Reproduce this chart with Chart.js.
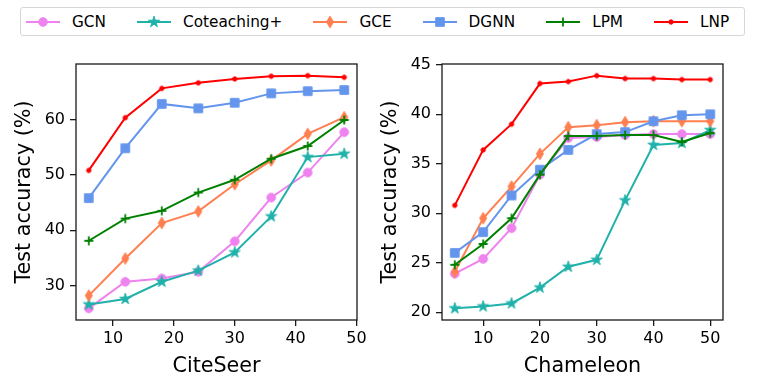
<!DOCTYPE html>
<html>
<head>
<meta charset="utf-8">
<script src="https://cdn.jsdelivr.net/npm/chart.js@4"></script>
<style>
  body { margin: 0; background: #fff; font-family: "DejaVu Sans", sans-serif; }
  #wrap { position: relative; width: 761px; height: 381px; overflow: hidden; }
  #leftChart { position: absolute; left: 0; top: 0; }
  #rightChart { position: absolute; left: 380px; top: 0; }
  #legend {
    position: absolute; left: 20px; top: 7px; width: 718px; height: 27px;
    border: 1px solid #d6d6d6; border-radius: 3px; background: #fff;
    display: flex; align-items: center; padding-left: 5px; box-sizing: content-box;
  }
  .item { display: flex; align-items: center; margin-right: 31px; }
  .item canvas { margin-right: 12px; }
  .item span { font-size: 15.3px; color: #000; white-space: nowrap; }
</style>
</head>
<body>
<div id="wrap">
  <canvas id="leftChart" width="380" height="381"></canvas>
  <canvas id="rightChart" width="381" height="381"></canvas>
  <div id="legend"></div>
</div>
<script>
// ---- data ----
const methods = ["GCN", "Coteaching+", "GCE", "DGNN", "LPM", "LNP"];
const colores = ["#ee82ee", "#20b2aa", "#ff7f50", "#6495ed", "#008000", "#ff0000"];
const marcadores = ["circle", "star", "thinDiamond", "square", "plus", "point"];

const citeseerX = [6, 12, 18, 24, 30, 36, 42, 48];
const citeseerGCN = [25.9, 30.7, 31.3, 32.5, 38.0, 45.9, 50.4, 57.7];
const citeseerCot = [26.6, 27.6, 30.7, 32.7, 36.0, 42.5, 53.2, 53.8];
const citeseerGCE = [28.2, 34.9, 41.3, 43.4, 48.3, 52.6, 57.4, 60.4];
const citeseerDGNN = [45.8, 54.8, 62.8, 62.0, 63.0, 64.7, 65.1, 65.3];
const citeseerLPM = [38.1, 42.1, 43.5, 46.8, 49.1, 52.9, 55.2, 59.9];
const citeseerLNP = [50.8, 60.3, 65.6, 66.6, 67.3, 67.8, 67.9, 67.6];

const chameleonX = [5, 10, 15, 20, 25, 30, 35, 40, 45, 50];
const chameleonGCN = [23.9, 25.4, 28.5, 33.9, 37.6, 37.7, 37.9, 38.0, 38.0, 38.0];
const chameleonCot = [20.4, 20.6, 20.9, 22.5, 24.6, 25.3, 31.3, 36.9, 37.1, 38.4];
const chameleonGCE = [24.1, 29.5, 32.7, 36.0, 38.7, 38.9, 39.2, 39.3, 39.3, 39.3];
const chameleonDGNN = [26.0, 28.1, 31.8, 34.4, 36.4, 38.0, 38.2, 39.3, 39.9, 40.0];
const chameleonLPM = [24.8, 26.9, 29.5, 33.9, 37.8, 37.8, 37.9, 37.9, 37.2, 38.1];
const chameleonLNP = [30.8, 36.4, 39.0, 43.1, 43.3, 43.9, 43.6, 43.6, 43.5, 43.5];

const citeseerXTicks = [10, 20, 30, 40, 50];
const citeseerYTicks = [30, 40, 50, 60];
const chameleonXTicks = [10, 20, 30, 40, 50];
const chameleonYTicks = [20, 25, 30, 35, 40, 45];

const yTitle = "Test accuracy (%)";
const FONT = "DejaVu Sans";

// ---- markers ----
function dibujarMarcador(ctx, tipo, cx, cy, color) {
    ctx.save();
    ctx.fillStyle = color;
    ctx.strokeStyle = color;
    ctx.lineWidth = 1;
    ctx.beginPath();
    if (tipo === "circle") {
        ctx.arc(cx, cy, 4.3, 0, Math.PI * 2);
        ctx.fill(); ctx.stroke();
    } else if (tipo === "point") {
        ctx.arc(cx, cy, 2.2, 0, Math.PI * 2);
        ctx.fill(); ctx.stroke();
    } else if (tipo === "square") {
        ctx.rect(cx - 4.3, cy - 4.3, 8.6, 8.6);
        ctx.fill(); ctx.stroke();
    } else if (tipo === "thinDiamond") {
        ctx.moveTo(cx, cy - 5.8);
        ctx.lineTo(cx + 3.5, cy);
        ctx.lineTo(cx, cy + 5.8);
        ctx.lineTo(cx - 3.5, cy);
        ctx.closePath();
        ctx.fill(); ctx.stroke();
    } else if (tipo === "star") {
        const R = 5.8, r = R * 0.382;
        for (let i = 0; i < 10; i++) {
            const ang = -Math.PI / 2 + i * Math.PI / 5;
            const rad = i % 2 === 0 ? R : r;
            const px = cx + rad * Math.cos(ang), py = cy + rad * Math.sin(ang);
            if (i === 0) ctx.moveTo(px, py); else ctx.lineTo(px, py);
        }
        ctx.closePath();
        ctx.fill(); ctx.stroke();
    } else if (tipo === "plus") {
        ctx.lineWidth = 1.8;
        ctx.moveTo(cx - 4.5, cy); ctx.lineTo(cx + 4.5, cy);
        ctx.moveTo(cx, cy - 4.5); ctx.lineTo(cx, cy + 4.5);
        ctx.stroke();
    }
    ctx.restore();
}

function crearMarcador(tipo, color) {
    const c = document.createElement("canvas");
    c.width = 16; c.height = 16;
    dibujarMarcador(c.getContext("2d"), tipo, 8, 8, color);
    return c;
}

// ---- legend ----
const legendEl = document.getElementById("legend");
methods.forEach((m, i) => {
    const item = document.createElement("div");
    item.className = "item";
    const c = document.createElement("canvas");
    c.width = 34; c.height = 16;
    const ctx = c.getContext("2d");
    ctx.strokeStyle = colores[i];
    ctx.lineWidth = 2;
    ctx.beginPath(); ctx.moveTo(0, 8); ctx.lineTo(34, 8); ctx.stroke();
    dibujarMarcador(ctx, marcadores[i], 17, 8, colores[i]);
    const s = document.createElement("span");
    s.textContent = m;
    item.appendChild(c); item.appendChild(s);
    legendEl.appendChild(item);
});

// ---- charts ----
const framePlugin = {
    id: "frame",
    afterDatasetsDraw(chart) {
        const a = chart.chartArea, ctx = chart.ctx;
        ctx.save();
        ctx.strokeStyle = "#1a1a1a";
        ctx.lineWidth = 1.3;
        ctx.strokeRect(a.left, a.top, a.right - a.left, a.bottom - a.top);
        ctx.restore();
    }
};

function rango(series) {
    const all = series.flat();
    const lo = Math.min(...all), hi = Math.max(...all);
    const m = (hi - lo) * 0.05;
    return [lo - m, hi + m];
}

function crearGrafico(id, xs, series, xTicks, yTicks, xTitle, cfg) {
    const [xMin, xMax] = rango([xs]);
    const [yMin, yMax] = rango(series);
    const datasets = series.map((ys, i) => ({
        label: methods[i],
        data: xs.map((x, j) => ({ x: x, y: ys[j] })),
        borderColor: colores[i],
        backgroundColor: colores[i],
        borderWidth: 2,
        tension: 0,
        pointStyle: crearMarcador(marcadores[i], colores[i]),
        pointRadius: 5,
        clip: false,
        order: methods.length - i
    }));
    const tickStyle = { color: "#000", font: { family: FONT, size: 16 } };
    const gridStyle = { drawOnChartArea: false, drawTicks: true, tickLength: 6, color: "#1a1a1a", lineWidth: 1.3 };
    return new Chart(document.getElementById(id), {
        type: "line",
        data: { datasets },
        options: {
            responsive: false,
            animation: false,
            devicePixelRatio: 1,
            layout: { padding: { left: 0, right: cfg.padRight, top: 64, bottom: 0 } },
            plugins: { legend: { display: false }, tooltip: { enabled: false } },
            scales: {
                x: {
                    type: "linear", min: xMin, max: xMax,
                    grid: gridStyle,
                    border: { display: false },
                    ticks: Object.assign({ padding: 3 }, tickStyle),
                    afterBuildTicks: axis => { axis.ticks = xTicks.map(v => ({ value: v })); },
                    afterFit: axis => { axis.height = 61; },
                    title: { display: true, text: xTitle, color: "#000",
                        font: { family: FONT, size: 20.7, lineHeight: 1 }, padding: { top: 0, bottom: 4.5 } }
                },
                y: {
                    type: "linear", min: yMin, max: yMax,
                    grid: gridStyle,
                    border: { display: false },
                    ticks: Object.assign({ padding: 5 }, tickStyle),
                    afterBuildTicks: axis => { axis.ticks = yTicks.map(v => ({ value: v })); },
                    afterFit: axis => { axis.width = cfg.yWidth; },
                    title: { display: true, text: yTitle, color: "#000",
                        font: { family: FONT, size: 20.7, lineHeight: 1 }, padding: { top: cfg.titlePad, bottom: 0 } }
                }
            }
        },
        plugins: [framePlugin]
    });
}

crearGrafico("leftChart", citeseerX,
    [citeseerGCN, citeseerCot, citeseerGCE, citeseerDGNN, citeseerLPM, citeseerLNP],
    citeseerXTicks, citeseerYTicks, "CiteSeer",
    { padRight: 23, yWidth: 76, titlePad: 14.6 });

crearGrafico("rightChart", chameleonX,
    [chameleonGCN, chameleonCot, chameleonGCE, chameleonDGNN, chameleonLPM, chameleonLNP],
    chameleonXTicks, chameleonYTicks, "Chameleon",
    { padRight: 38, yWidth: 62, titlePad: 0 });
</script>
</body>
</html>
